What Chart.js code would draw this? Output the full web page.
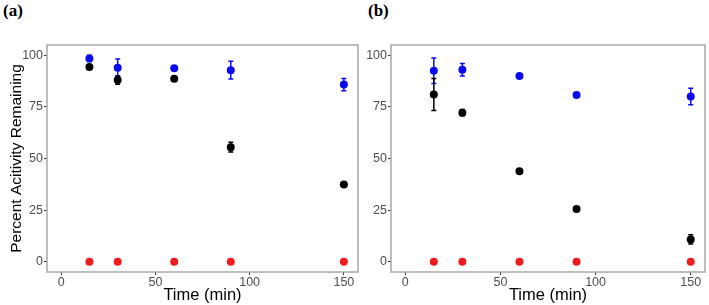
<!DOCTYPE html>
<html><head><meta charset="utf-8">
<script src="https://cdn.jsdelivr.net/npm/chart.js@4/dist/chart.umd.min.js"></script>
<style>
html,body{margin:0;padding:0;background:#fff;width:709px;height:305px;overflow:hidden;}
.wrap{position:absolute;top:0;height:305px;}
.lab{position:absolute;top:1px;font-family:"Liberation Serif","DejaVu Serif",serif;font-weight:bold;font-size:17px;color:#000;}
</style></head><body>
<div class="lab" style="left:3px">(a)</div>
<div class="lab" style="left:368px">(b)</div>
<div class="wrap" style="left:0;width:362px"><canvas id="ca" width="362" height="305"></canvas></div>
<div class="wrap" style="left:362px;width:347px"><canvas id="cb" width="347" height="305"></canvas></div>
<script>
const times = [15, 30, 60, 90, 150];
const xTicks = [0, 50, 100, 150];
const yTicks = [0, 25, 50, 75, 100];
// panel (a)
const aBlue = [98.5, 94, 93.7, 92.8, 85.8];
const aBlueErr = [1.5, 4.2, 0, 4.3, 3];
const aBlack = [94.3, 88, 88.7, 55.5, 37.4];
const aBlackErr = [0, 2, 0, 2.4, 0];
const aRed = [0, 0, 0, 0, 0];
// panel (b)
const bBlue = [92.5, 93, 90, 80.8, 80];
const bBlueErr = [6.2, 3, 0, 0, 4];
const bBlack = [81, 72.2, 43.8, 25.5, 10.8];
const bBlackErr = [7.8, 1.5, 0, 0, 2.2];
const bRed = [0, 0, 0, 0, 0];

const errPlugin = {
  id: 'errbars',
  afterDatasetsDraw(chart) {
    const ctx = chart.ctx, xs = chart.scales.x, ys = chart.scales.y;
    chart.data.datasets.forEach(ds => {
      if (!ds.err) return;
      ctx.save();
      ctx.strokeStyle = ds.backgroundColor; ctx.lineWidth = 1.5;
      ds.data.forEach((p, i) => {
        const e = ds.err[i]; if (!e) return;
        const x = xs.getPixelForValue(p.x);
        const y1 = ys.getPixelForValue(p.y + e), y2 = ys.getPixelForValue(p.y - e);
        ctx.beginPath();
        ctx.moveTo(x, y1); ctx.lineTo(x, y2);
        ctx.moveTo(x - 2.5, y1); ctx.lineTo(x + 2.5, y1);
        ctx.moveTo(x - 2.5, y2); ctx.lineTo(x + 2.5, y2);
        ctx.stroke();
      });
      ctx.restore();
    });
  }
};
const boxPlugin = {
  id: 'box',
  afterDraw(chart) {
    const a = chart.chartArea, ctx = chart.ctx;
    ctx.save(); ctx.strokeStyle = '#a8a8a8'; ctx.lineWidth = 1.5;
    ctx.strokeRect(a.left, a.top, a.right - a.left, a.bottom - a.top);
    ctx.restore();
  }
};
function pts(v) { return times.map((t, i) => ({ x: t, y: v[i] })); }
function make(id, blue, blueErr, black, blackErr, red, yW, showTitle) {
  const ds = (data, color, err) => ({ data: pts(data), err, backgroundColor: color, borderColor: color, pointRadius: 4, pointHoverRadius: 4, borderWidth: 0 });
  new Chart(document.getElementById(id), {
    type: 'scatter',
    data: { datasets: [ds(red, '#ee1c1c', null), ds(blue, '#0a0aee', blueErr), ds(black, '#000000', blackErr)] },
    options: {
      responsive: false, animation: false, events: [],
      layout: { padding: { top: 45, right: 4, left: 0, bottom: 0 } },
      plugins: { legend: { display: false }, tooltip: { enabled: false } },
      scales: {
        x: {
          type: 'linear', min: -7.5, max: 157.5,
          afterBuildTicks: s => { s.ticks = xTicks.map(v => ({ value: v })); },
          afterFit: s => { s.height = 33; },
          grid: { display: true, drawOnChartArea: false, drawTicks: true, tickLength: 3, color: '#333' },
          border: { display: false },
          ticks: { color: '#4d4d4d', font: { family: 'Liberation Sans, Arial', size: 12.5 }, padding: 0, maxRotation: 0 },
          title: { display: true, text: 'Time (min)', color: '#000', font: { family: 'Liberation Sans, Arial', size: 16.5 }, padding: { top: -2, bottom: 0 } }
        },
        y: {
          type: 'linear', min: -5, max: 105,
          afterBuildTicks: s => { s.ticks = yTicks.map(v => ({ value: v })); },
          afterFit: s => { s.width = yW; },
          grid: { display: true, drawOnChartArea: false, drawTicks: true, tickLength: 3, color: '#333' },
          border: { display: false },
          ticks: { color: '#4d4d4d', font: { family: 'Liberation Sans, Arial', size: 12.5 }, padding: 1 },
          title: { display: showTitle, text: 'Percent Acitivity Remaining', color: '#000', font: { family: 'Liberation Sans, Arial', size: 15.5 }, padding: { top: 7, bottom: 0 } }
        }
      }
    },
    plugins: [errPlugin, boxPlugin]
  });
}
make('ca', aBlue, aBlueErr, aBlack, aBlackErr, aRed, 47, true);
make('cb', bBlue, bBlueErr, bBlack, bBlackErr, bRed, 29, false);
</script>
</body></html>
